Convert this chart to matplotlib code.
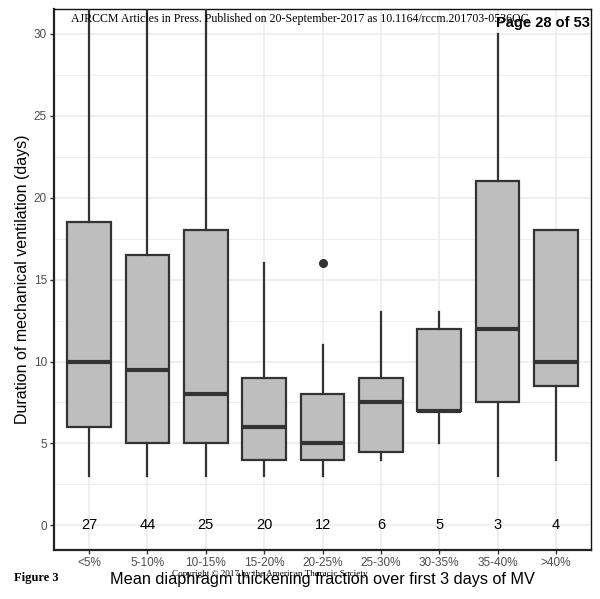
import matplotlib
matplotlib.use("Agg")
import matplotlib.pyplot as plt
from matplotlib.ticker import MultipleLocator

categories = ["<5%", "5-10%", "10-15%", "15-20%", "20-25%", "25-30%", "30-35%", "35-40%", ">40%"]
counts = [27, 44, 25, 20, 12, 6, 5, 3, 4]
q1 = [6, 5, 5, 4, 4, 4.5, 7, 7.5, 8.5]
median = [10, 9.5, 8, 6, 5, 7.5, 7, 12, 10]
q3 = [18.5, 16.5, 18, 9, 8, 9, 12, 21, 18]
whisker_low = [3, 3, 3, 3, 3, 4, 5, 3, 4]
whisker_high = [35, 35, 35, 16, 11, 13, 13, 30, 18]
outliers = [[], [], [], [], [16], [], [], [], []]

plt.rcParams['font.family'] = ['Liberation Sans', 'DejaVu Sans']

fig = plt.figure(figsize=(6.0, 5.99), dpi=100)
ax = fig.add_axes([0.09, 0.0818, 0.895, 0.903])

positions = list(range(1, len(categories) + 1))
stats = []
for i, c in enumerate(categories):
    stats.append(dict(label=c, q1=q1[i], med=median[i], q3=q3[i],
                      whislo=whisker_low[i], whishi=whisker_high[i],
                      fliers=outliers[i]))

edge = "#333333"
ax.bxp(stats, positions=positions, widths=0.75, patch_artist=True,
       showcaps=False,
       boxprops=dict(facecolor="#BEBEBE", edgecolor=edge, linewidth=1.6),
       medianprops=dict(color=edge, linewidth=3.0, solid_capstyle='butt'),
       whiskerprops=dict(color=edge, linewidth=1.6),
       flierprops=dict(marker='o', markerfacecolor=edge, markeredgecolor=edge,
                       markersize=5.5, linestyle='none'),
       zorder=3)

for p, n in zip(positions, counts):
    ax.text(p, 0, str(n), ha='center', va='center', fontsize=10.5, color='black', zorder=4)

ax.set_xlim(0.4, len(categories) + 0.6)
ax.set_ylim(-1.5, 31.5)
ax.set_xticks(positions)
ax.set_xticklabels(categories)
ax.yaxis.set_major_locator(MultipleLocator(5))
ax.yaxis.set_minor_locator(MultipleLocator(2.5))
ax.grid(which='major', color='#EBEBEB', linewidth=1.1, zorder=0)
ax.grid(which='minor', axis='y', color='#EBEBEB', linewidth=0.6, zorder=0)
ax.set_axisbelow(True)
ax.tick_params(axis='both', which='major', length=3, width=1, color='#333333',
               labelsize=8.5, labelcolor='#4D4D4D', pad=2)
ax.tick_params(axis='y', which='minor', length=0)

for s in ['left', 'bottom']:
    ax.spines[s].set_linewidth(1.6)
    ax.spines[s].set_color('#222222')
for s in ['top', 'right']:
    ax.spines[s].set_linewidth(1.0)
    ax.spines[s].set_color('#111111')

ax.set_ylabel("Duration of mechanical ventilation (days)", fontsize=11.5, labelpad=3)
ax.set_xlabel("Mean diaphragm thickening fraction over first 3 days of MV", fontsize=11.7, labelpad=2)

fig.text(71/600, 1 - 22/599, "AJRCCM Articles in Press. Published on 20-September-2017 as 10.1164/rccm.201703-0536OC",
         family=['Liberation Serif', 'DejaVu Serif'], fontsize=8.6, ha='left', va='baseline')
fig.text(590/600, 1 - 27/599, "Page 28 of 53", fontsize=10.5, fontweight='bold', ha='right', va='baseline')
fig.text(14/600, 1 - 581/599, "Figure 3", family=['Liberation Serif', 'DejaVu Serif'],
         fontsize=9, fontweight='bold', ha='left', va='baseline')
fig.text(270/600, 1 - 576/599, "Copyright © 2017 by the American Thoracic Society",
         family=['Liberation Serif', 'DejaVu Serif'], fontsize=6.6, ha='center', va='baseline')

fig.savefig("out.png", dpi=100)
